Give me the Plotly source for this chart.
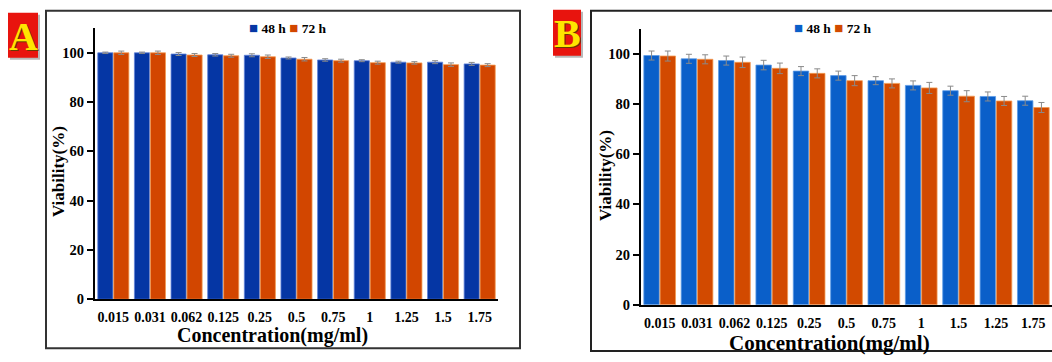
import plotly.graph_objects as go

# ---------------- data ----------------
cats_a = ["0.015", "0.031", "0.062", "0.125", "0.25", "0.5", "0.75", "1", "1.25", "1.5", "1.75"]
cats_b = ["0.015", "0.031", "0.062", "0.125", "0.25", "0.5", "0.75", "1", "1.5", "1.25", "1.75"]

a_48 = [100.0, 100.0, 99.5, 99.2, 99.0, 97.9, 97.1, 96.8, 96.2, 96.2, 95.5]
a_72 = [100.0, 100.0, 99.1, 98.8, 98.4, 97.4, 96.8, 96.0, 95.9, 95.2, 95.0]
a_48_err = [0.3, 0.3, 0.6, 0.5, 0.6, 0.4, 0.5, 0.4, 0.4, 0.6, 0.6]
a_72_err = [0.7, 0.7, 0.6, 0.6, 0.7, 0.7, 0.6, 0.6, 0.5, 0.7, 0.6]

b_48 = [99.3, 98.0, 97.3, 95.5, 93.1, 91.3, 89.3, 87.4, 85.3, 83.0, 81.3]
b_72 = [99.1, 97.8, 96.6, 94.2, 92.2, 89.3, 88.2, 86.4, 83.1, 81.2, 78.6]
b_48_err = [1.8, 1.8, 1.8, 1.9, 1.8, 1.8, 1.6, 1.8, 1.8, 1.8, 1.8]
b_72_err = [2.0, 1.8, 2.1, 2.1, 1.8, 2.0, 1.8, 2.2, 2.2, 1.8, 2.0]

series_names = ["48 h", "72 h"]
y_ticks = [0, 20, 40, 60, 80, 100]

# ---------------- style ----------------
W, H = 1052, 362
SERIF = "Liberation Serif"
A_BLUE, A_ORANGE = "#0536A4", "#D24600"
B_BLUE, B_ORANGE = "#0A5FC9", "#D24A00"
ERR = "#8a8a8a"


def px(x):
    return x / W


def py(y):
    return 1 - y / H


fig = go.Figure()


def add_bars(cats, vals, errs, color, edge, name, xa, ya):
    fig.add_trace(go.Bar(
        x=cats, y=vals, name=name, xaxis=xa, yaxis=ya, showlegend=False,
        marker=dict(color=color, line=dict(color=edge, width=0.8)),
        error_y=dict(type="data", array=errs, color=ERR, thickness=1, width=3),
    ))


add_bars(cats_a, a_48, a_48_err, A_BLUE, "#5f82d8", series_names[0], "x", "y")
add_bars(cats_a, a_72, a_72_err, A_ORANGE, "#f29a50", series_names[1], "x", "y")
add_bars(cats_b, b_48, b_48_err, B_BLUE, "#5c9ae6", series_names[0], "x2", "y2")
add_bars(cats_b, b_72, b_72_err, B_ORANGE, "#f29a50", series_names[1], "x2", "y2")

tickfont = dict(family=SERIF, size=14, color="black", weight="bold")

xcommon = dict(type="category", showgrid=False, zeroline=False, showline=True,
               linecolor="black", linewidth=2, ticks="", tickfont=tickfont,
               ticklabelstandoff=4, fixedrange=True)
ycommon = dict(range=[0, 110], showgrid=False, zeroline=False, showline=True,
               linecolor="black", linewidth=2, ticks="outside", ticklen=6,
               tickwidth=1.5, tickcolor="black", tickvals=y_ticks,
               tickfont=dict(family=SERIF, size=14.5, color="black", weight="bold"))

fig.update_layout(
    width=W, height=H,
    margin=dict(l=0, r=0, t=0, b=0),
    paper_bgcolor="white", plot_bgcolor="white",
    barmode="group", bargap=0.13, bargroupgap=0.05,
    showlegend=False,
    xaxis=dict(domain=[px(95), px(498)], anchor="y", **xcommon),
    yaxis=dict(domain=[py(306), py(306 - 110 * 2.52)], anchor="x", **ycommon),
    xaxis2=dict(domain=[px(641), 1.0], anchor="y2", **xcommon),
    yaxis2=dict(domain=[py(311.7), py(311.7 - 110 * 2.567)], anchor="x2", **ycommon),
)

shapes = []
# outer frames
shapes.append(dict(type="rect", xref="paper", yref="paper",
                   x0=px(46), x1=px(520), y0=py(356), y1=py(11),
                   line=dict(color="#333333", width=2)))
shapes.append(dict(type="rect", xref="paper", yref="paper",
                   x0=px(591), x1=px(1060), y0=py(359), y1=py(11),
                   line=dict(color="#222222", width=2)))
# panel letter boxes (shadow + red box)
for (x0, y0, x1, y1) in [(8, 13, 38, 59), (553, 10, 581, 57)]:
    shapes.append(dict(type="rect", xref="paper", yref="paper",
                       x0=px(x0 + 2), x1=px(x1 + 2), y0=py(y1 + 2), y1=py(y0 + 2),
                       line=dict(width=0), fillcolor="#b8b8b8"))
    shapes.append(dict(type="rect", xref="paper", yref="paper",
                       x0=px(x0), x1=px(x1), y0=py(y1), y1=py(y0),
                       line=dict(width=0), fillcolor="#E8140E"))
fig.update_layout(shapes=shapes)

ann = []
# panel letters
for letter, cx, cy in [("A", 23.5, 37), ("B", 567, 34)]:
    ann.append(dict(text=letter, x=px(cx + 1), y=py(cy + 1), xref="paper", yref="paper",
                    showarrow=False, xanchor="center", yanchor="middle",
                    font=dict(family=SERIF, size=40, color="#6a3a00", weight="bold")))
    ann.append(dict(text=letter, x=px(cx), y=py(cy), xref="paper", yref="paper",
                    showarrow=False, xanchor="center", yanchor="middle",
                    font=dict(family=SERIF, size=40, color="#FFE600", weight="bold")))

# axis titles
for cx, cy, size in [(272, 343, 20), (829, 351, 21)]:
    ann.append(dict(text="Concentration(mg/ml)", x=px(cx), y=py(cy), xref="paper", yref="paper",
                    showarrow=False, xanchor="center", yanchor="middle",
                    font=dict(family=SERIF, size=size, color="black", weight="bold")))
for cx, cy in [(58, 176), (605, 180)]:
    ann.append(dict(text="Viability(%)", x=px(cx), y=py(cy), xref="paper", yref="paper",
                    showarrow=False, xanchor="center", yanchor="middle", textangle=-90,
                    font=dict(family=SERIF, size=17, color="black", weight="bold")))

# legends
for cx, cy, cb, co in [(288, 29, A_BLUE, A_ORANGE), (833, 29, B_BLUE, B_ORANGE)]:
    txt = (f"<span style='color:{cb};font-size:15px'>■</span> {series_names[0]} "
           f"<span style='color:{co};font-size:15px'>■</span> {series_names[1]}")
    ann.append(dict(text=txt, x=px(cx), y=py(cy), xref="paper", yref="paper",
                    showarrow=False, xanchor="center", yanchor="middle",
                    font=dict(family=SERIF, size=13.5, color="black", weight="bold")))

fig.update_layout(annotations=ann)

fig.write_html("out.html")
